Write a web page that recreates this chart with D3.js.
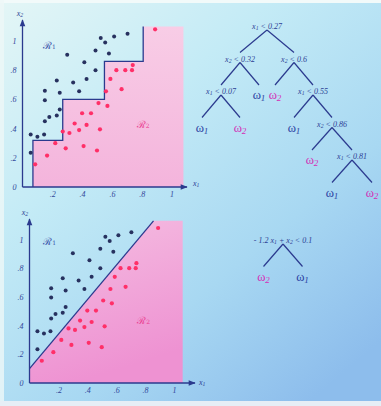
<!DOCTYPE html>
<html>
  <head>
    <meta charset="utf-8">
    <title>Decision trees</title>
    <script src="https://d3js.org/d3.v7.min.js"></script>
    <style>
      body { margin: 0; }
      svg { display: block; }
      .tick-label { font-family: "Liberation Serif", serif; font-style: italic; font-size: 8px; fill: #33479a; }
      .split { font-family: "Liberation Serif", serif; font-style: italic; font-size: 8px; fill: #2d3f94; }
      .leaf { font-family: "Liberation Serif", serif; font-size: 12.5px; }
    </style>
  </head>
  <body>
<script>
// samples of class w1 (dark) and w2 (red)
var class1X = [0.055, 0.10, 0.145, 0.055, 0.15, 0.18, 0.23, 0.25, 0.15, 0.15, 0.23, 0.25,
               0.30, 0.34, 0.38, 0.415, 0.43, 0.49, 0.49, 0.525, 0.555, 0.58, 0.615, 0.705];
var class1Y = [0.36, 0.345, 0.36, 0.235, 0.45, 0.48, 0.49, 0.53, 0.595, 0.66, 0.73, 0.645,
               0.905, 0.715, 0.655, 0.855, 0.74, 0.935, 0.80, 1.02, 0.99, 0.915, 1.03, 1.05];
var class2X = [0.085, 0.165, 0.22, 0.27, 0.29, 0.315, 0.35, 0.38, 0.40, 0.41, 0.43, 0.46,
               0.50, 0.51, 0.52, 0.56, 0.57, 0.59, 0.63, 0.665, 0.69, 0.735, 0.74, 0.89];
var class2Y = [0.155, 0.215, 0.30, 0.38, 0.265, 0.37, 0.435, 0.39, 0.505, 0.28, 0.425, 0.505,
               0.25, 0.575, 0.395, 0.655, 0.555, 0.74, 0.80, 0.67, 0.80, 0.80, 0.835, 1.08];

var xTicks = [0.2, 0.4, 0.6, 0.8, 1];
var yTicks = [0, 0.2, 0.4, 0.6, 0.8, 1];

// staircase boundary of the axis-parallel tree
var stepX = [0.07, 0.27, 0.55, 0.81];
var stepY = [0, 0.32, 0.6, 0.86];

// oblique split: a*x1 + x2 < c
var obliqueA = -1.2, obliqueC = 0.1;

var treeTop = {split: "x_1 < 0.27", children: [
  {split: "x_2 < 0.32", children: [
    {split: "x_1 < 0.07", children: [{leaf: 1}, {leaf: 2}]},
    {leaf: 1}]},
  {split: "x_2 < 0.6", children: [
    {leaf: 2},
    {split: "x_1 < 0.55", children: [
      {leaf: 1},
      {split: "x_2 < 0.86", children: [
        {leaf: 2},
        {split: "x_1 < 0.81", children: [{leaf: 1}, {leaf: 2}]}]}]}]}]};

var treeBottom = {split: "- 1.2 x_1 + x_2 < 0.1", children: [{leaf: 2}, {leaf: 1}]};

var width = 381, height = 406,
    blue = "#2b3a8e", dotBlue = "#27315f", dotRed = "#ff2f68",
    leafColor = {1: "#2b3ea2", 2: "#d42fb6"};

var svg = d3.select("body").append("svg")
  .attr("width", width)
  .attr("height", height);

var defs = svg.append("defs");

var bg = defs.append("linearGradient")
  .attr("id", "paper")
  .attr("x1", 0).attr("y1", 0).attr("x2", 0.8).attr("y2", 1);
bg.append("stop").attr("offset", 0).attr("stop-color", "#e4f6f6");
bg.append("stop").attr("offset", 0.35).attr("stop-color", "#c4ebf6");
bg.append("stop").attr("offset", 0.7).attr("stop-color", "#a8d8f2");
bg.append("stop").attr("offset", 1).attr("stop-color", "#8dbdec");

var pinkTop = defs.append("linearGradient")
  .attr("id", "pinkTop").attr("x1", 0).attr("y1", 0).attr("x2", 0).attr("y2", 1);
pinkTop.append("stop").attr("offset", 0).attr("stop-color", "#f8cde6");
pinkTop.append("stop").attr("offset", 1).attr("stop-color", "#f4b4dc");

var pinkBottom = defs.append("linearGradient")
  .attr("id", "pinkBottom").attr("x1", 0).attr("y1", 0).attr("x2", 0.3).attr("y2", 1);
pinkBottom.append("stop").attr("offset", 0).attr("stop-color", "#f5bfe2");
pinkBottom.append("stop").attr("offset", 1).attr("stop-color", "#ee92d2");

defs.append("marker")
  .attr("id", "arrow")
  .attr("orient", "auto")
  .attr("viewBox", "0 -5 10 10")
  .attr("refX", 9)
  .attr("refY", 0)
  .attr("markerUnits", "userSpaceOnUse")
  .attr("markerWidth", 9)
  .attr("markerHeight", 7)
.append("path")
  .attr("d", "M0,-4L10,0L0,4Z")
  .attr("fill", blue);

svg.append("rect")
  .attr("width", width)
  .attr("height", height)
  .attr("fill", "url(#paper)");

// pale paper edges
svg.append("rect").attr("width", width).attr("height", 3).attr("fill", "#f2fafa");
svg.append("rect").attr("width", 4).attr("height", height).attr("fill", "#eef8f8").attr("opacity", 0.8);
svg.append("rect").attr("y", 401).attr("width", width).attr("height", 5).attr("fill", "#e6eef6");

// writes "x_1 < 0.27" style strings with subscripts
function richText(text, str) {
  str.split(/_(\d)/).forEach(function (part, i) {
    if (!part) return;
    var t = text.append("tspan").text(part);
    if (i % 2 == 1) t.attr("baseline-shift", "-28%").attr("font-size", "72%").attr("font-style", "italic");
  });
}

function tickFormat(d) {
  return d == 0 ? "0" : d == 1 ? "1" : String(d).replace("0.", ".");
}

function scatterPanel(g, x, y) {
  var pts1 = class1X.map(function (v, i) { return [v, class1Y[i]]; });
  var pts2 = class2X.map(function (v, i) { return [v, class2Y[i]]; });

  g.selectAll(".p1").data(pts1).enter().append("circle")
    .attr("class", "p1")
    .attr("cx", function (d) { return x(d[0]); })
    .attr("cy", function (d) { return y(d[1]); })
    .attr("r", 2)
    .attr("fill", dotBlue);

  g.selectAll(".p2").data(pts2).enter().append("circle")
    .attr("class", "p2")
    .attr("cx", function (d) { return x(d[0]); })
    .attr("cy", function (d) { return y(d[1]); })
    .attr("r", 2.1)
    .attr("fill", dotRed);
}

function axesPanel(g, x, y, xEnd, yEnd, xLabelPos, yLabelPos) {
  var xAxis = g.append("g")
    .attr("transform", "translate(0," + y(0) + ")")
    .call(d3.axisBottom(x).tickValues(xTicks).tickSize(0).tickPadding(4).tickFormat(tickFormat));
  var yAxis = g.append("g")
    .attr("transform", "translate(" + x(0) + ",0)")
    .call(d3.axisLeft(y).tickValues(yTicks).tickSize(0).tickPadding(6).tickFormat(tickFormat));
  [xAxis, yAxis].forEach(function (a) {
    a.select(".domain").remove();
    a.selectAll("text").attr("class", "tick-label").attr("fill", null);
    a.attr("font-family", null).attr("font-size", null);
  });

  g.append("line")
    .attr("x1", x(0)).attr("y1", y(0))
    .attr("x2", xEnd).attr("y2", y(0))
    .attr("stroke", blue).attr("stroke-width", 1.3)
    .attr("marker-end", "url(#arrow)");
  g.append("line")
    .attr("x1", x(0)).attr("y1", y(0))
    .attr("x2", x(0)).attr("y2", yEnd)
    .attr("stroke", blue).attr("stroke-width", 1.3)
    .attr("marker-end", "url(#arrow)");

  richText(g.append("text").attr("class", "split")
    .attr("x", xLabelPos[0]).attr("y", xLabelPos[1]).attr("dominant-baseline", "central"), "x_1");
  richText(g.append("text").attr("class", "split")
    .attr("x", yLabelPos[0]).attr("y", yLabelPos[1]).attr("text-anchor", "middle")
    .attr("dominant-baseline", "central"), "x_2");
}

function regionLabel(g, x, y, pos, n, color) {
  var t = g.append("text")
    .attr("x", x(pos[0])).attr("y", y(pos[1]))
    .attr("text-anchor", "middle")
    .attr("dominant-baseline", "central")
    .attr("font-family", "'DejaVu Serif', serif")
    .attr("font-size", 10)
    .attr("fill", color);
  t.append("tspan").text("\u211B");
  t.append("tspan").text(n).attr("font-size", "60%").attr("baseline-shift", "-30%");
}

// ---------- top panel: axis-parallel splits ----------
var topG = svg.append("g");
var xTop = d3.scaleLinear().domain([0, 1]).range([22.5, 171.5]),
    yTop = d3.scaleLinear().domain([0, 1]).range([187, 41]);
var topMaxX = 1.08, topMaxY = 1.1;

// up at each x threshold, then right at the new height
var stair = [];
stepX.forEach(function (sx, i) {
  var next = i + 1 < stepY.length ? stepY[i + 1] : topMaxY;
  stair.push([sx, stepY[i]]);
  stair.push([sx, next]);
});

var line = d3.line()
  .x(function (d) { return xTop(d[0]); })
  .y(function (d) { return yTop(d[1]); });

topG.append("path")
  .attr("d", line(stair.concat([[topMaxX, topMaxY], [topMaxX, 0]])) + "Z")
  .attr("fill", "url(#pinkTop)");
topG.append("path")
  .attr("d", line(stair))
  .attr("fill", "none")
  .attr("stroke", blue)
  .attr("stroke-width", 1.3);

scatterPanel(topG, xTop, yTop);
axesPanel(topG, xTop, yTop, 187, 20, [193, 183], [20, 13]);
regionLabel(topG, xTop, yTop, [0.18, 0.97], "1", "#3850a8");
regionLabel(topG, xTop, yTop, [0.81, 0.43], "2", "#ea3f92");

// ---------- bottom panel: oblique split ----------
var botG = svg.append("g");
var xBot = d3.scaleLinear().domain([0, 1]).range([29.5, 174]),
    yBot = d3.scaleLinear().domain([0, 1]).range([383, 239.5]);
var botMaxX = 1.06, botMaxY = 1.13;
var obliqueEnd = (botMaxY - obliqueC) / -obliqueA;
var lineB = d3.line()
  .x(function (d) { return xBot(d[0]); })
  .y(function (d) { return yBot(d[1]); });

botG.append("path")
  .attr("d", lineB([[0, 0], [0, obliqueC], [obliqueEnd, botMaxY], [botMaxX, botMaxY], [botMaxX, 0]]) + "Z")
  .attr("fill", "url(#pinkBottom)");
botG.append("path")
  .attr("d", lineB([[0, obliqueC], [obliqueEnd, botMaxY]]))
  .attr("fill", "none")
  .attr("stroke", blue)
  .attr("stroke-width", 1.3);

scatterPanel(botG, xBot, yBot);
axesPanel(botG, xBot, yBot, 195, 219, [199, 382], [25, 212]);
regionLabel(botG, xBot, yBot, [0.14, 0.99], "1", "#3850a8");
regionLabel(botG, xBot, yBot, [0.79, 0.44], "2", "#ea3f92");

// ---------- decision trees ----------
function drawTree(data, rootX, rootY, spreads) {
  var g = svg.append("g");
  var root = d3.hierarchy(data);
  var depthY = d3.scaleLinear().domain([0, 1]).range([rootY, rootY + 32.5]);

  root.each(function (d) {
    d.y = depthY(d.depth);
    if (!d.parent) { d.x = rootX; return; }
    var s = spreads[Math.min(d.parent.depth, spreads.length - 1)];
    d.x = d.parent.x + (d.parent.children.indexOf(d) == 0 ? -s : s);
  });

  g.selectAll("line").data(root.links()).enter().append("line")
    .attr("x1", function (d) { return d.source.x; })
    .attr("y1", function (d) { return d.source.y + 4; })
    .attr("x2", function (d) { return d.target.x; })
    .attr("y2", function (d) { return d.source.y + 26.5; })
    .attr("stroke", blue)
    .attr("stroke-width", 1.2);

  root.descendants().forEach(function (d) {
    var t = g.append("text")
      .attr("x", d.x)
      .attr("text-anchor", "middle")
      .attr("dominant-baseline", "central");
    if (d.data.split) {
      t.attr("class", "split").attr("y", d.y);
      richText(t, d.data.split);
    } else {
      t.attr("class", "leaf").attr("y", d.y + 4).attr("fill", leafColor[d.data.leaf]);
      richText(t, "\u03C9_" + d.data.leaf);
    }
  });
}

drawTree(treeTop, 267, 26, [27, 19, 19, 20, 20]);
drawTree(treeBottom, 283, 240, [19.5]);
</script>
  </body>
</html>
